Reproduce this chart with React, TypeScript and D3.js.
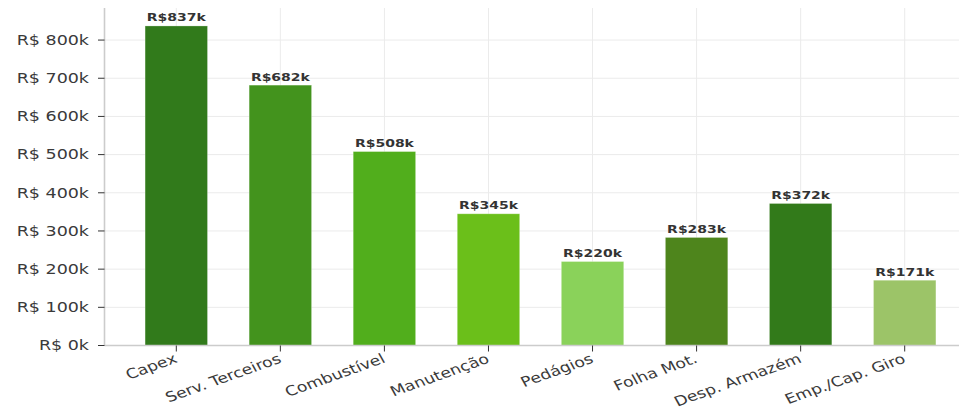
import React from 'react'
import * as d3 from 'd3'

const categories = ['Capex', 'Serv. Terceiros', 'Combustível', 'Manutenção', 'Pedágios', 'Folha Mot.', 'Desp. Armazém', 'Emp./Cap. Giro']
const values = [837000, 682000, 508000, 345000, 220000, 283000, 372000, 171000]
const barColors = ['#317a1b', '#43931d', '#51ae1c', '#6bbf1a', '#8ad25a', '#4e851c', '#327a1a', '#9cc468']
const yTicks = [0, 100000, 200000, 300000, 400000, 500000, 600000, 700000, 800000]

const W = 959
const H = 409
const left = 104.5
const right = 959
const top = 8
const bottom = 345.5
const stretch = 1.25
const font = '"DejaVu Sans", sans-serif'

const App = () => {
  const x = d3.scaleLinear().domain([0, categories.length - 1]).range([176.3, 904.7])
  const step = x(1) - x(0)
  const barW = step * 0.6
  const y = d3.scaleLinear().domain([0, 884000]).range([bottom, top])
  const fmt = (v: number) => `R$ ${d3.format('d')(v / 1000)}k`
  const fmtBar = (v: number) => `R$${d3.format('d')(v / 1000)}k`

  return (
    <svg width={W} height={H} style={{position: 'absolute', left: 0, top: 0, background: '#fff'}}>
      {/* grid */}
      <g stroke="#ebebeb" strokeWidth={1}>
        {yTicks.map(t => (
          <line key={t} x1={left} x2={right} y1={y(t)} y2={y(t)} />
        ))}
        {categories.map((c, i) => (
          <line key={c} x1={x(i)} x2={x(i)} y1={top} y2={bottom} />
        ))}
      </g>

      {/* bars */}
      {values.map((v, i) => (
        <rect
          key={categories[i]}
          x={x(i) - barW / 2}
          y={y(v)}
          width={barW}
          height={bottom - y(v)}
          fill={barColors[i]}
          stroke="#ffffff"
          strokeOpacity={0.35}
          strokeWidth={0.8}
        />
      ))}

      {/* value labels */}
      {values.map((v, i) => (
        <g key={categories[i]} transform={`translate(${x(i)},${y(v) - 4.5}) scale(${stretch},1)`}>
          <text textAnchor="middle" fontFamily={font} fontWeight="bold" fontSize={11.2} fill="#333">
            {fmtBar(v)}
          </text>
        </g>
      ))}

      {/* spines */}
      <line x1={left} x2={left} y1={top} y2={bottom} stroke="#cccccc" strokeWidth={1.6} />
      <line x1={left} x2={right} y1={bottom} y2={bottom} stroke="#cccccc" strokeWidth={1.6} />

      {/* y axis */}
      {yTicks.map(t => (
        <g key={t}>
          <line x1={left - 6.5} x2={left} y1={y(t)} y2={y(t)} stroke="#333" strokeWidth={1} />
          <g transform={`translate(${left - 15.5},${y(t)}) scale(${stretch},1)`}>
            <text textAnchor="end" dominantBaseline="central" fontFamily={font} fontSize={14} fill="#3a3a3a">
              {fmt(t)}
            </text>
          </g>
        </g>
      ))}

      {/* x axis */}
      {categories.map((c, i) => (
        <g key={c}>
          <line x1={x(i)} x2={x(i)} y1={bottom} y2={bottom + 6} stroke="#333" strokeWidth={1} />
          <g transform={`translate(${x(i) - 3},${bottom + 7.5}) scale(${stretch},1) rotate(-24)`}>
            <text textAnchor="end" dominantBaseline="hanging" fontFamily={font} fontSize={13.8} fill="#3a3a3a">
              {c}
            </text>
          </g>
        </g>
      ))}
    </svg>
  )
}

export default App
